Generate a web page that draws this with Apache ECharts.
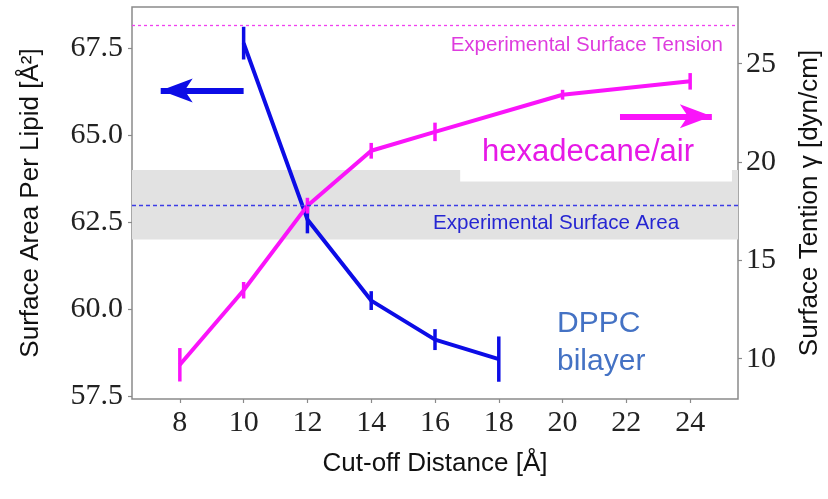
<!DOCTYPE html>
<html>
<head>
<meta charset="utf-8">
<script src="https://cdn.jsdelivr.net/npm/echarts@6/dist/echarts.min.js"></script>
<style>
  html, body { margin: 0; padding: 0; background: #fff; }
  #chart { width: 828px; height: 499px; }
</style>
</head>
<body>
<div id="chart"></div>
<script>
// DPPC bilayer: area per lipid vs. cut-off distance (left axis)
const cutoffBilayer = [10, 12, 14, 16, 18];
const areaPerLipid  = [67.64, 62.58, 60.25, 59.13, 58.57];
const areaErr       = [0.47, 0.40, 0.27, 0.30, 0.65];

// hexadecane/air: surface tension vs. cut-off distance (right axis)
const cutoffHexadecane = [8, 10, 12, 14, 16, 20, 24];
const surfaceTension   = [9.69, 13.48, 17.78, 20.57, 21.53, 23.42, 24.10];
const tensionErr       = [0.85, 0.42, 0.40, 0.40, 0.47, 0.25, 0.42];

// experimental reference values
const expArea     = 63.0;
const expAreaBand = [62.0, 64.0];
const expTension  = 26.95;

// tick values
const xTicks       = [8, 10, 12, 14, 16, 18, 20, 22, 24];
const areaTicks    = [57.5, 60.0, 62.5, 65.0, 67.5];
const tensionTicks = [10, 15, 20, 25];

const BLUE = '#0c0ce6';
const MAGENTA = '#fa14fa';
const FRAME = '#8a8a8a';
const SERIF = '"Liberation Serif", "DejaVu Serif", serif';
const SANS = '"Liberation Sans", Arial, sans-serif';

const zip = (xs, ys) => xs.map((x, i) => [x, ys[i]]);

// vertical error bars drawn through the axis scales
function errorBars(xs, ys, errs, yAxisIndex, color) {
  return {
    type: 'custom',
    yAxisIndex: yAxisIndex,
    z: 4,
    silent: true,
    data: xs.map((x, i) => [x, ys[i] - errs[i], ys[i] + errs[i]]),
    encode: { x: 0, y: [1, 2] },
    renderItem: function (params, api) {
      const lo = api.coord([api.value(0), api.value(1)]);
      const hi = api.coord([api.value(0), api.value(2)]);
      return {
        type: 'line',
        shape: { x1: lo[0], y1: lo[1], x2: hi[0], y2: hi[1] },
        style: { stroke: color, lineWidth: 3.5 }
      };
    }
  };
}

const tickLabel = { fontFamily: SERIF, fontSize: 30, color: '#222' };

const chart = echarts.init(document.getElementById('chart'), null, { renderer: 'canvas' });

chart.setOption({
  animation: false,
  backgroundColor: '#fff',
  grid: {
    left: 132, right: 90, top: 7, bottom: 100,
    containLabel: false,
    outerBoundsMode: 'none',
    show: true, borderColor: FRAME, borderWidth: 1.5, backgroundColor: 'transparent'
  },
  xAxis: {
    type: 'value',
    min: 6.5, max: 25.5,
    name: 'Cut-off Distance [Å]',
    nameLocation: 'middle',
    nameGap: 52,
    nameTextStyle: { fontFamily: SANS, fontSize: 26, color: '#111' },
    axisLine: { show: false },
    splitLine: { show: false },
    axisTick: { show: true, length: 4, lineStyle: { color: FRAME, width: 1.2 }, customValues: xTicks },
    axisLabel: Object.assign({ margin: 9, customValues: xTicks, formatter: v => String(v) }, tickLabel)
  },
  yAxis: [
    {
      type: 'value',
      position: 'left',
      min: 57.425, max: 68.677,
      name: 'Surface Area Per Lipid [Å²]',
      nameLocation: 'middle',
      nameRotate: 90,
      nameGap: 88,
      nameTextStyle: { fontFamily: SANS, fontSize: 26, color: '#111' },
      axisLine: { show: false },
      splitLine: { show: false },
      axisTick: { show: true, length: 4, lineStyle: { color: FRAME, width: 1.2 }, customValues: areaTicks },
      axisLabel: Object.assign({ margin: 9, customValues: areaTicks, formatter: v => v.toFixed(1) }, tickLabel)
    },
    {
      type: 'value',
      position: 'right',
      min: 7.95, max: 27.88,
      name: 'Surface Tention γ [dyn/cm]',
      nameLocation: 'middle',
      nameRotate: 90,
      nameGap: 59,
      nameTextStyle: { fontFamily: SANS, fontSize: 26, color: '#111' },
      axisLine: { show: false },
      splitLine: { show: false },
      axisTick: { show: true, length: 4, lineStyle: { color: FRAME, width: 1.2 }, customValues: tensionTicks },
      axisLabel: Object.assign({ margin: 8, customValues: tensionTicks, formatter: v => String(v) }, tickLabel)
    }
  ],
  series: [
    {
      name: 'DPPC bilayer',
      type: 'line',
      yAxisIndex: 0,
      z: 3,
      data: zip(cutoffBilayer, areaPerLipid),
      symbol: 'none',
      lineStyle: { color: BLUE, width: 4 },
      markArea: {
        silent: true,
        itemStyle: { color: '#e2e2e2' },
        data: [[{ yAxis: expAreaBand[0] }, { yAxis: expAreaBand[1] }]]
      },
      markLine: {
        silent: true,
        symbol: 'none',
        label: { show: false },
        data: [
          { yAxis: expArea, lineStyle: { color: '#3c3ce6', width: 1.3, type: [4, 3] } },
          [
            { coord: [10.0, 66.28], symbol: 'none', lineStyle: { color: BLUE, width: 6, type: 'solid' } },
            { coord: [7.40, 66.28], symbol: 'arrow', symbolSize: [18, 32] }
          ]
        ]
      }
    },
    {
      name: 'hexadecane/air',
      type: 'line',
      yAxisIndex: 1,
      z: 3,
      data: zip(cutoffHexadecane, surfaceTension),
      symbol: 'none',
      lineStyle: { color: MAGENTA, width: 4 },
      markArea: {
        silent: true,
        itemStyle: { color: '#ffffff' },
        label: {
          show: true, position: 'inside', offset: [-8, 0],
          fontFamily: SANS, fontSize: 31, color: '#e619e6'
        },
        data: [[{ name: 'hexadecane/air', coord: [16.79, 22.0] }, { coord: [25.31, 19.01] }]]
      },
      markLine: {
        silent: true,
        symbol: 'none',
        label: { show: false },
        data: [
          { yAxis: expTension, lineStyle: { color: '#f040f0', width: 1.3, type: [3, 3] } },
          [
            { coord: [21.8, 22.32], symbol: 'none', lineStyle: { color: MAGENTA, width: 6, type: 'solid' } },
            { coord: [24.68, 22.32], symbol: 'arrow', symbolSize: [18, 32] }
          ]
        ]
      }
    },
    errorBars(cutoffBilayer, areaPerLipid, areaErr, 0, BLUE),
    errorBars(cutoffHexadecane, surfaceTension, tensionErr, 1, MAGENTA)
  ],
  graphic: [
    {
      type: 'text', right: 105, top: 35, z: 10,
      style: { text: 'Experimental Surface Tension', font: '20.5px ' + SANS, fill: '#de3cde' }
    },
    {
      type: 'text', left: 433, top: 213, z: 10,
      style: { text: 'Experimental Surface Area', font: '20.6px ' + SANS, fill: '#2626d2' }
    },
    {
      type: 'text', left: 557, top: 305, z: 10,
      style: { text: 'DPPC\nbilayer', font: '30px ' + SANS, fill: '#4472c4', lineHeight: 38 }
    }
  ]
});
</script>
</body>
</html>
